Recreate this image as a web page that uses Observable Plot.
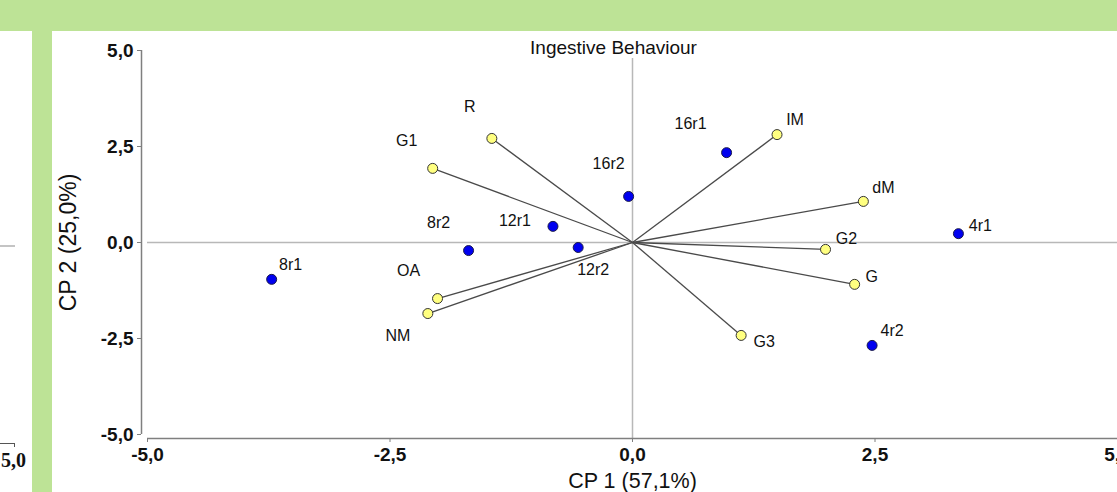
<!DOCTYPE html>
<html>
<head>
<meta charset="utf-8">
<script src="https://cdn.jsdelivr.net/npm/d3@7"></script>
<script src="https://cdn.jsdelivr.net/npm/@observablehq/plot@0.6"></script>
<style>
  html, body { margin: 0; padding: 0; background: #fff; overflow: hidden; }
  body { width: 1117px; height: 492px; position: relative; font-family: "Liberation Sans", Arial, sans-serif; }
  #topband { position: absolute; left: 0; top: 0; width: 1117px; height: 31px; background: #bde396; }
  #sidebar { position: absolute; left: 32px; top: 31px; width: 20px; height: 461px; background: #bde396; }
  #leftline { position: absolute; left: 0; top: 245px; width: 15px; height: 2px; background: #c4c4c4; }
  #leftaxis { position: absolute; left: 0; top: 443px; width: 14px; height: 3px; border-top: 1.5px solid #555; border-right: 1.5px solid #555; }
  #leftlabel { position: absolute; left: 1px; top: 449px; font: bold 20px "Liberation Serif", serif; color: #111; }
  #chart { position: absolute; left: 53px; top: 31px; }
</style>
</head>
<body>
<div id="topband"></div>
<div id="sidebar"></div>
<div id="leftline"></div>
<div id="leftaxis"></div>
<div id="leftlabel">5,0</div>
<div id="chart"></div>
<script>
// Scores (blue points)
const scoreNames = ["8r1", "8r2", "12r1", "12r2", "16r2", "16r1", "4r1", "4r2"];
const scoreCP1   = [-3.72, -1.69, -0.82, -0.56, -0.04, 0.97, 3.36, 2.47];
const scoreCP2   = [-0.96, -0.21, 0.42, -0.13, 1.20, 2.34, 0.23, -2.68];

// Loadings (yellow points joined to origin)
const loadNames = ["R", "G1", "IM", "dM", "G2", "G", "G3", "OA", "NM"];
const loadCP1   = [-1.45, -2.06, 1.49, 2.38, 1.99, 2.29, 1.12, -2.01, -2.11];
const loadCP2   = [2.71, 1.93, 2.81, 1.07, -0.18, -1.09, -2.42, -1.46, -1.85];

// Axis ticks and labels
const ticks = [-5, -2.5, 0, 2.5, 5];
const tickLabels = ["-5,0", "-2,5", "0,0", "2,5", "5,0"];
const xTitle = "CP 1 (57,1%)";
const yTitle = "CP 2 (25,0%)";
const chartTitle = "Ingestive Behaviour";

// Label placement (pixel offsets from each point)
const scoreLabelOffsets = [[19, -14], [-30, -28], [-38, -5], [15, 22], [-20, -33], [-36, -29], [22, -8], [20, -15]];
const loadLabelOffsets  = [[-22, -32], [-26, -28], [18, -15], [20, -14], [21, -11], [17, -7], [23, 6], [-29, -28], [-30, 22]];

const scores = scoreNames.map((n, i) => ({name: n, x: scoreCP1[i], y: scoreCP2[i], off: scoreLabelOffsets[i]}));
const loadings = loadNames.map((n, i) => ({name: n, x: loadCP1[i], y: loadCP2[i], off: loadLabelOffsets[i]}));

const fmt = v => tickLabels[ticks.indexOf(v)];
const axisGray = "#7f7f7f";

const labelMarks = [...loadings, ...scores].map(d =>
  Plot.text([d], {x: "x", y: "y", text: "name", dx: d.off[0], dy: d.off[1], fontSize: 16, fill: "#111"})
);

const plot = Plot.plot({
  width: 1064,
  height: 461,
  marginLeft: 88,
  marginRight: 0,
  marginTop: 19,
  marginBottom: 54,
  style: {background: "transparent", fontFamily: "'Liberation Sans', Arial, sans-serif", overflow: "visible"},
  x: {domain: [-5, 5], insetLeft: 6},
  y: {domain: [-5, 5], insetBottom: 4},
  marks: [
    // reference lines
    Plot.ruleY([0], {stroke: "#b8b8b8", strokeWidth: 1.5, insetLeft: 6}),
    Plot.ruleX([0], {stroke: "#b8b8b8", strokeWidth: 1.5, insetTop: 8}),
    // axis lines
    Plot.ruleY([-5], {dy: 4, insetLeft: 6, stroke: axisGray, strokeWidth: 1.5}),
    Plot.ruleX([-5], {dx: -6, insetBottom: 4, stroke: axisGray, strokeWidth: 1.5}),
    Plot.axisX({ticks, tickFormat: fmt, tickSize: 4, tickPadding: 5, stroke: axisGray, fill: "#111", fontSize: 19, fontWeight: "bold", label: null}),
    Plot.axisY({ticks, tickFormat: fmt, tickSize: 4, tickPadding: 4, stroke: axisGray, fill: "#111", fontSize: 19, fontWeight: "bold", label: null}),
    // loading vectors
    Plot.link(loadings, {x1: d => 0, y1: d => 0, x2: "x", y2: "y", stroke: "#4a4a4a", strokeWidth: 1.3}),
    Plot.dot(loadings, {x: "x", y: "y", r: 5, fill: "#ffff80", stroke: "#333", strokeWidth: 1}),
    Plot.dot(scores, {x: "x", y: "y", r: 5, fill: "#0000f0", stroke: "#1a1a4a", strokeWidth: 1}),
    ...labelMarks,
    // titles
    Plot.text([chartTitle], {frameAnchor: "top", dx: -16, dy: -10, fontSize: 19, fill: "#111"}),
    Plot.text([xTitle], {frameAnchor: "bottom", dx: 3, dy: 49, fontSize: 21.5, fill: "#111"}),
    Plot.text([yTitle], {frameAnchor: "left", textAnchor: "middle", dx: -73, dy: -2, rotate: -90, fontSize: 23, fill: "#111"})
  ]
});
document.getElementById("chart").appendChild(plot);
</script>
</body>
</html>
